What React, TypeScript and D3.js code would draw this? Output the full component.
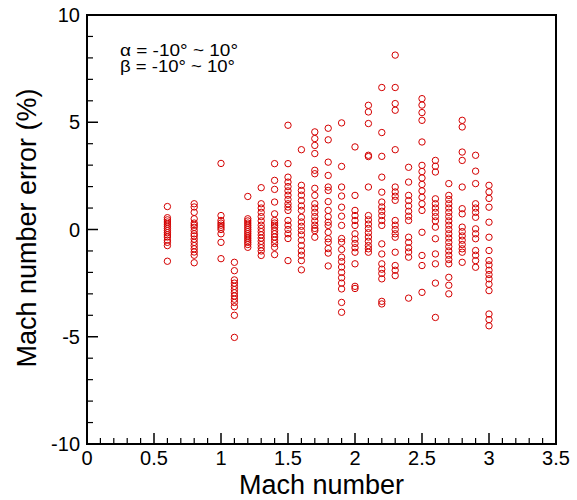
import React from "react";
import * as d3 from "d3";

const machNumbers = [0.6, 0.8, 1.0, 1.1, 1.2, 1.3, 1.4, 1.5, 1.6, 1.7, 1.8, 1.9, 2.0, 2.1, 2.2, 2.3, 2.4, 2.5, 2.6, 2.7, 2.8, 2.9, 3.0];

const err06 = [1.07, 0.55, 0.45, 0.35, 0.25, 0.15, 0.05, -0.05, -0.15, -0.25, -0.35, -0.5, -0.6, -0.75, -1.48];
const err08 = [1.2, 1.05, 0.8, 0.5, 0.3, 0.2, 0.1, -0.05, -0.2, -0.3, -0.45, -0.6, -0.75, -0.9, -1.05, -1.2, -1.55];
const err10 = [3.08, 0.65, 0.42, 0.3, 0.2, 0.1, 0.0, -0.2, -0.6, -1.36];
const err11 = [-1.53, -1.92, -2.35, -2.5, -2.65, -2.8, -2.95, -3.1, -3.25, -3.4, -3.6, -4.0, -5.03];
const err12 = [1.54, 0.5, 0.4, 0.3, 0.2, 0.1, 0.0, -0.1, -0.2, -0.3, -0.4, -0.5, -0.6, -0.7, -0.83];
const err13 = [1.95, 1.2, 1.0, 0.8, 0.6, 0.4, 0.2, 0.05, -0.1, -0.25, -0.4, -0.55, -0.7, -0.85, -1.0, -1.21];
const err14 = [3.07, 2.29, 1.87, 1.28, 0.73, 0.42, 0.3, 0.2, 0.1, -0.05, -0.2, -0.35, -0.5, -0.65, -0.83, -1.17];
const err15 = [4.86, 3.07, 2.44, 2.21, 2.0, 1.8, 1.6, 1.4, 1.2, 1.05, 0.89, 0.42, 0.2, 0.0, -0.2, -0.42, -1.45];
const err16 = [3.72, 2.06, 1.82, 1.6, 1.35, 1.1, 0.89, 0.57, 0.35, 0.15, -0.05, -0.25, -0.5, -0.75, -1.0, -1.2, -1.45, -1.88];
const err17 = [4.55, 4.24, 3.92, 3.54, 2.76, 2.6, 1.92, 1.59, 1.2, 1.0, 0.8, 0.6, 0.4, 0.2, 0.05, -0.05, -0.36];
const err18 = [4.72, 4.18, 3.14, 2.52, 1.98, 1.82, 1.3, 0.89, 0.6, 0.34, 0.19, -0.13, -0.43, -0.59, -0.89, -1.1, -1.7];
const err19 = [4.97, 2.94, 1.98, 1.56, 1.04, 0.62, 0.19, -0.42, -0.59, -0.93, -1.29, -1.5, -1.75, -2.0, -2.25, -2.5, -2.77, -3.4, -3.86];
const err20 = [3.85, 1.59, 0.89, 0.65, 0.42, 0.19, -0.2, -0.45, -0.65, -0.85, -1.06, -1.6, -2.65, -2.75];
const err21 = [5.79, 5.48, 4.94, 3.46, 3.4, 1.98, 0.65, 0.45, 0.25, 0.05, -0.15, -0.35, -0.55, -0.75, -0.9, -1.06];
const err22 = [6.62, 4.52, 3.41, 2.44, 1.74, 1.28, 1.05, 0.85, 0.65, 0.42, 0.19, -0.67, -1.14, -1.6, -1.85, -2.05, -2.3, -3.35, -3.47];
const err23 = [8.13, 6.62, 5.87, 5.56, 3.72, 1.98, 1.75, 1.55, 1.36, 0.42, 0.2, 0.0, -0.2, -0.36, -1.06, -1.68, -1.9, -2.15];
const err24 = [2.9, 2.21, 1.59, 1.35, 1.1, 0.85, 0.62, 0.42, -0.36, -0.6, -0.85, -1.05, -1.29, -3.2];
const err25 = [6.1, 5.8, 5.45, 5.09, 4.08, 2.99, 2.7, 2.4, 2.1, 1.8, 1.5, 1.2, 0.89, -0.13, -1.21, -1.68, -2.93];
const err26 = [3.22, 2.95, 2.68, 1.43, 1.2, 1.0, 0.8, 0.6, 0.4, 0.11, -0.43, -1.14, -1.6, -2.5, -4.1];
const err27 = [2.14, 1.59, 1.4, 1.2, 1.0, 0.8, 0.6, 0.4, 0.2, 0.0, -0.2, -0.4, -0.6, -0.8, -1.0, -1.2, -1.4, -1.6, -2.23, -2.6, -3.0];
const err28 = [5.09, 4.78, 3.61, 3.22, 1.98, 0.97, 0.73, 0.11, -0.1, -0.3, -0.5, -0.7, -0.9, -1.06, -1.53];
const err29 = [3.46, 2.72, 2.14, 1.2, 1.0, 0.8, 0.57, 0.03, -0.2, -0.43, -0.98, -1.2, -1.45, -1.76];
const err30 = [2.06, 1.75, 1.45, 1.04, 0.34, -0.36, -0.98, -1.45, -1.65, -1.9, -2.1, -2.3, -2.55, -2.85, -3.94, -4.2, -4.49];

const errorColumns = [err06, err08, err10, err11, err12, err13, err14, err15, err16, err17, err18, err19, err20, err21, err22, err23, err24, err25, err26, err27, err28, err29, err30];

const xTickLabels = ["0", "0.5", "1", "1.5", "2", "2.5", "3", "3.5"];
const yTickLabels = ["-10", "-5", "0", "5", "10"];
const annotationLines = ["α = -10° ~ 10°", "β = -10° ~ 10°"];

const W = 577;
const H = 500;
const FONT = "'Liberation Sans', Arial, sans-serif";
const RED = "#d40000";

export default function App() {
  const left = 87, right = 556, top = 15, bottom = 444;
  const x = d3.scaleLinear().domain([0, 3.5]).range([left, right]);
  const y = d3.scaleLinear().domain([-10, 10]).range([bottom, top]);

  const points = machNumbers.flatMap((m, i) => errorColumns[i].map((e) => ({ m, e })));

  const xMajor = xTickLabels.map(Number);
  const xMinor = d3.range(0, 3.5001, 0.1).filter((v) => Math.abs(v * 2 - Math.round(v * 2)) > 1e-6);
  const yMajor = yTickLabels.map(Number);
  const yMinor = d3.range(-10, 10.001, 1).filter((v) => v % 5 !== 0);

  return (
    <svg width={W} height={H} style={{ position: "absolute", left: 0, top: 0, background: "#fff" }} fontFamily={FONT}>
      {xMajor.map((v) => (
        <line key={"xM" + v} x1={x(v)} x2={x(v)} y1={bottom} y2={bottom - 11} stroke="#000" strokeWidth={1.5} />
      ))}
      {xMinor.map((v, i) => (
        <line key={"xm" + i} x1={x(v)} x2={x(v)} y1={bottom} y2={bottom - 6} stroke="#000" strokeWidth={1.2} />
      ))}
      {yMajor.map((v) => (
        <line key={"yM" + v} x1={left} x2={left + 11} y1={y(v)} y2={y(v)} stroke="#000" strokeWidth={1.5} />
      ))}
      {yMinor.map((v) => (
        <line key={"ym" + v} x1={left} x2={left + 6} y1={y(v)} y2={y(v)} stroke="#000" strokeWidth={1.2} />
      ))}
      <rect x={left} y={top} width={right - left} height={bottom - top} fill="none" stroke="#000" strokeWidth={2} />

      {xTickLabels.map((t) => (
        <text key={"xt" + t} x={x(Number(t))} y={465} fontSize={20} textAnchor="middle" fill="#000">{t}</text>
      ))}
      {yTickLabels.map((t) => (
        <text key={"yt" + t} x={80} y={y(Number(t)) + 7} fontSize={20} textAnchor="end" fill="#000">{t}</text>
      ))}

      <text x={(left + right) / 2} y={494} fontSize={27} textAnchor="middle" fill="#000">Mach number</text>
      <text transform={`translate(36, 228) rotate(-90)`} fontSize={27} textAnchor="middle" fill="#000">Mach number error (%)</text>

      <text x={120} y={56} fontSize={16} fill="#000" textLength={118} lengthAdjust="spacingAndGlyphs">{annotationLines[0]}</text>
      <text x={120} y={72} fontSize={16} fill="#000" textLength={115} lengthAdjust="spacingAndGlyphs">{annotationLines[1]}</text>

      {points.map((p, i) => (
        <circle key={i} cx={x(p.m)} cy={y(p.e)} r={3.2} fill="none" stroke={RED} strokeWidth={1} />
      ))}
    </svg>
  );
}
